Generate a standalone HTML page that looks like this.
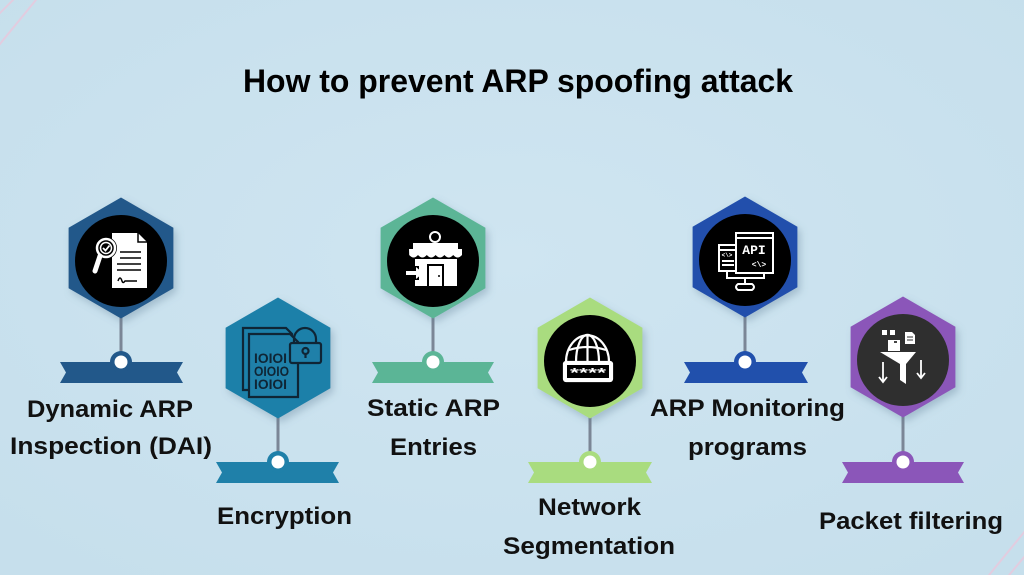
<!DOCTYPE html>
<html>
<head>
<meta charset="utf-8">
<style>
  html,body{margin:0;padding:0;background:#cbe2ee;}
  svg{display:block;}
  text{font-family:"Liberation Sans",Arial,sans-serif;font-weight:bold;fill:#111;}
</style>
</head>
<body>
<svg width="1024" height="575" viewBox="0 0 1024 575" xmlns="http://www.w3.org/2000/svg">
  <defs>
    <filter id="sh" x="-30%" y="-30%" width="160%" height="160%">
      <feDropShadow dx="3" dy="4" stdDeviation="4" flood-color="#5a7a90" flood-opacity="0.35"/>
    </filter>
    <radialGradient id="bg" cx="50%" cy="45%" r="70%">
      <stop offset="0" stop-color="#cfe5f1"/>
      <stop offset="1" stop-color="#c6dfec"/>
    </radialGradient>
  </defs>
  <rect width="1024" height="575" fill="url(#bg)"/>
  <!-- faint pink corner lines -->
  <g stroke="#e9c8dc" stroke-width="2" opacity="0.8" fill="none">
    <line x1="-5" y1="18" x2="18" y2="-5"/>
    <line x1="-5" y1="50" x2="40" y2="-5"/>
    <line x1="985" y1="580" x2="1030" y2="525"/>
    <line x1="1005" y1="580" x2="1030" y2="550"/>
  </g>

  <!-- Title -->
  <text x="518" y="92" font-size="32" text-anchor="middle" textLength="550" lengthAdjust="spacingAndGlyphs" style="fill:#000">How to prevent ARP spoofing attack</text>

  <!-- connectors -->
  <g stroke="#7b8696" stroke-width="3">
    <line x1="121" y1="316" x2="121" y2="362"/>
    <line x1="278" y1="416" x2="278" y2="462"/>
    <line x1="433" y1="316" x2="433" y2="362"/>
    <line x1="590" y1="416" x2="590" y2="462"/>
    <line x1="745" y1="316" x2="745" y2="362"/>
    <line x1="903" y1="416" x2="903" y2="462"/>
  </g>

  <!-- ribbons -->
  <path d="M60,362 L183,362 L177,372.5 L183,383 L60,383 L66,372.5 Z" fill="#22588a"/>
  <path d="M216,462 L339,462 L333,472.5 L339,483 L216,483 L222,472.5 Z" fill="#1f80a9"/>
  <path d="M372,362 L494,362 L488,372.5 L494,383 L372,383 L378,372.5 Z" fill="#5bb596"/>
  <path d="M528,462 L652,462 L646,472.5 L652,483 L528,483 L534,472.5 Z" fill="#a9dc7f"/>
  <path d="M684,362 L808,362 L802,372.5 L808,383 L684,383 L690,372.5 Z" fill="#2150ac"/>
  <path d="M842,462 L964,462 L958,472.5 L964,483 L842,483 L848,472.5 Z" fill="#8b56b9"/>

  <!-- ribbon circles -->
  <g>
    <circle cx="121" cy="362" r="11" fill="#22588a"/><circle cx="121" cy="362" r="6.5" fill="#fff"/>
    <circle cx="278" cy="462" r="11" fill="#1f80a9"/><circle cx="278" cy="462" r="6.5" fill="#fff"/>
    <circle cx="433" cy="362" r="11" fill="#5bb596"/><circle cx="433" cy="362" r="6.5" fill="#fff"/>
    <circle cx="590" cy="462" r="11" fill="#a9dc7f"/><circle cx="590" cy="462" r="6.5" fill="#fff"/>
    <circle cx="745" cy="362" r="11" fill="#2150ac"/><circle cx="745" cy="362" r="6.5" fill="#fff"/>
    <circle cx="903" cy="462" r="11" fill="#8b56b9"/><circle cx="903" cy="462" r="6.5" fill="#fff"/>
  </g>

  <!-- hexagons -->
  <g filter="url(#sh)">
    <polygon points="121,197.5 173.4,227.75 173.4,288.25 121,318.5 68.6,288.25 68.6,227.75" fill="#22588a"/>
    <polygon points="278,297.5 330.4,327.75 330.4,388.25 278,418.5 225.6,388.25 225.6,327.75" fill="#1f80a9"/>
    <polygon points="433,197.5 485.4,227.75 485.4,288.25 433,318.5 380.6,288.25 380.6,227.75" fill="#5bb596"/>
    <polygon points="590,297.5 642.4,327.75 642.4,388.25 590,418.5 537.6,388.25 537.6,327.75" fill="#a9dc7f"/>
    <polygon points="745,196.5 797.4,226.75 797.4,287.25 745,317.5 692.6,287.25 692.6,226.75" fill="#2150ac"/>
    <polygon points="903,296.5 955.4,326.75 955.4,387.25 903,417.5 850.6,387.25 850.6,326.75" fill="#8b56b9"/>
  </g>

  <!-- inner circles -->
  <circle cx="121" cy="261" r="46" fill="#000"/>
  <circle cx="433" cy="261" r="46" fill="#000"/>
  <circle cx="590" cy="361" r="46" fill="#000"/>
  <circle cx="745" cy="260" r="46" fill="#000"/>
  <circle cx="903" cy="360" r="46" fill="#2f2f2f"/>

  <!-- Icon 1: document with magnifier -->
  <g>
    <path d="M112,233 L138,233 L147,242 L147,288 L112,288 Z" fill="#fff"/>
    <path d="M138,233 L138,242 L147,242" fill="none" stroke="#000" stroke-width="1.5"/>
    <g stroke="#000" stroke-width="1.5">
      <line x1="120" y1="252" x2="141" y2="252"/>
      <line x1="120" y1="258" x2="141" y2="258"/>
      <line x1="117" y1="264" x2="141" y2="264"/>
      <line x1="117" y1="270" x2="141" y2="270"/>
    </g>
    <path d="M118,281 q2,-6 4,0 q1,3 3,0 l12,0" fill="none" stroke="#000" stroke-width="1.5"/>
    <circle cx="106" cy="248" r="11" fill="#000"/>
    <circle cx="106" cy="248" r="9" fill="none" stroke="#fff" stroke-width="2.5"/>
    <circle cx="106" cy="248" r="5.5" fill="none" stroke="#fff" stroke-width="1.5"/>
    <path d="M103,248 l2.5,2.5 l4,-5" fill="none" stroke="#fff" stroke-width="1.8"/>
    <line x1="100" y1="256" x2="95" y2="271" stroke="#fff" stroke-width="5" stroke-linecap="round"/>
  </g>

  <!-- Icon 2: encrypted documents with lock -->
  <g fill="none" stroke="#0f2535" stroke-width="2.2">
    <path d="M243,328 L286,328 L292,334 L292,390 L243,390 Z"/>
    <path d="M249,334 L290,334 L298,342 L298,397 L249,397 Z" fill="#1f80a9"/>
    <path d="M294,344 v-5 a11,11 0 0 1 22,0 v5"/>
    <rect x="290" y="343" width="31" height="20" rx="2" fill="#1f80a9"/>
    <circle cx="305.5" cy="351" r="3"/>
    <line x1="305.5" y1="354" x2="305.5" y2="358"/>
  </g>
  <g font-size="14">
    <text x="254" y="363" style="fill:#0f2535;font-family:'Liberation Sans',sans-serif" textLength="33" lengthAdjust="spacingAndGlyphs">IOIOI</text>
    <text x="254" y="376" style="fill:#0f2535;font-family:'Liberation Sans',sans-serif" textLength="35" lengthAdjust="spacingAndGlyphs">OIOIO</text>
    <text x="254" y="389" style="fill:#0f2535;font-family:'Liberation Sans',sans-serif" textLength="33" lengthAdjust="spacingAndGlyphs">IOIOI</text>
  </g>

  <!-- Icon 3: store -->
  <g fill="#fff">
    <circle cx="435" cy="237" r="5" fill="none" stroke="#fff" stroke-width="2"/>
    <rect x="413" y="243" width="45" height="6"/>
    <path d="M409,249 L462,249 L462,255 q-4.4,5 -8.8,0 q-4.4,5 -8.8,0 q-4.4,5 -8.8,0 q-4.4,5 -8.8,0 q-4.4,5 -8.8,0 q-4.4,5 -8.8,0 Z"/>
    <rect x="415" y="259" width="42" height="27"/>
    <rect x="427" y="264" width="17" height="22" fill="#000"/>
    <rect x="429" y="266" width="13" height="20" fill="#fff"/>
    <circle cx="439" cy="276" r="1" fill="#000"/>
    <rect x="405" y="266" width="14" height="14" fill="#000"/>
    <path d="M406,271 L416,271 L416,267 L423,273 L416,279 L416,275 L406,275 Z"/>
  </g>

  <!-- Icon 4: globe with password -->
  <g fill="none" stroke="#fff" stroke-width="2.2">
    <path d="M566,362 a21,26 0 0 1 43,0"/>
    <path d="M576,362 a11,26 0 0 1 23,0"/>
    <line x1="587.5" y1="336" x2="587.5" y2="362"/>
    <path d="M569,350 q18.5,-6 37,0"/>
    <rect x="564" y="362" width="48" height="19" rx="2" fill="#fff"/>
    <rect x="567" y="365" width="42" height="13" fill="#000" stroke="none"/>
  </g>
  <text x="588" y="377" font-size="13" text-anchor="middle" style="fill:#fff" textLength="36" lengthAdjust="spacingAndGlyphs">****</text>

  <!-- Icon 5: API monitor -->
  <g fill="none" stroke="#fff" stroke-width="2">
    <rect x="719" y="245" width="24" height="26"/>
    <line x1="719" y1="250" x2="736" y2="250"/>
    <line x1="722" y1="261" x2="734" y2="261"/>
    <line x1="722" y1="265" x2="734" y2="265"/>
    <rect x="736" y="233" width="37" height="40" fill="#000"/>
    <line x1="736" y1="238" x2="773" y2="238"/>
    <path d="M727,271 L727,278 L764,278 L764,273"/>
    <line x1="745" y1="278" x2="745" y2="284"/>
    <path d="M738,284 L752,284 q4,3 0,6 L738,290 q-4,-3 0,-6 Z"/>
  </g>
  <text x="754" y="254" font-size="13" text-anchor="middle" style="fill:#fff;font-family:'Liberation Mono',monospace">API</text>
  <text x="759" y="267" font-size="8" text-anchor="middle" style="fill:#fff;font-family:'Liberation Mono',monospace">&lt;\&gt;</text>
  <text x="727" y="257" font-size="6" text-anchor="middle" style="fill:#fff;font-family:'Liberation Mono',monospace">&lt;\&gt;</text>

  <!-- Icon 6: filter -->
  <g fill="#fff">
    <rect x="882" y="330" width="5" height="5"/>
    <rect x="890" y="330" width="5" height="5"/>
    <path d="M905,332 L912,332 L915,335 L915,344 L905,344 Z"/>
    <rect x="888" y="340" width="12" height="11"/>
    <path d="M880,352 L916,352 L906,364 L906,384 L900,380 L900,364 Z"/>
  </g>
  <g stroke="#fff" stroke-width="1.8" fill="none">
    <line x1="883" y1="362" x2="883" y2="382"/>
    <path d="M879,377 L883,382 L887,377"/>
    <line x1="921" y1="360" x2="921" y2="378"/>
    <path d="M917,373 L921,378 L925,373"/>
    <line x1="894" y1="342" x2="897" y2="342" stroke="#2f2f2f"/>
    <line x1="907" y1="337" x2="913" y2="337" stroke="#2f2f2f" stroke-width="1"/>
    <line x1="907" y1="340" x2="913" y2="340" stroke="#2f2f2f" stroke-width="1"/>
  </g>

  <!-- Labels -->
  <g font-size="24">
    <text x="110" y="417" text-anchor="middle" textLength="166" lengthAdjust="spacingAndGlyphs">Dynamic ARP</text>
    <text x="111" y="454" text-anchor="middle" textLength="202" lengthAdjust="spacingAndGlyphs">Inspection (DAI)</text>
    <text x="284.5" y="524" text-anchor="middle" textLength="135" lengthAdjust="spacingAndGlyphs">Encryption</text>
    <text x="433.5" y="416" text-anchor="middle" textLength="133" lengthAdjust="spacingAndGlyphs">Static ARP</text>
    <text x="433.5" y="455" text-anchor="middle" textLength="87" lengthAdjust="spacingAndGlyphs">Entries</text>
    <text x="589.5" y="515" text-anchor="middle" textLength="103" lengthAdjust="spacingAndGlyphs">Network</text>
    <text x="589" y="554" text-anchor="middle" textLength="172" lengthAdjust="spacingAndGlyphs">Segmentation</text>
    <text x="747.5" y="416" text-anchor="middle" textLength="195" lengthAdjust="spacingAndGlyphs">ARP Monitoring</text>
    <text x="747.5" y="455" text-anchor="middle" textLength="119" lengthAdjust="spacingAndGlyphs">programs</text>
    <text x="911" y="529" text-anchor="middle" textLength="184" lengthAdjust="spacingAndGlyphs">Packet filtering</text>
  </g>
</svg>
</body>
</html>
